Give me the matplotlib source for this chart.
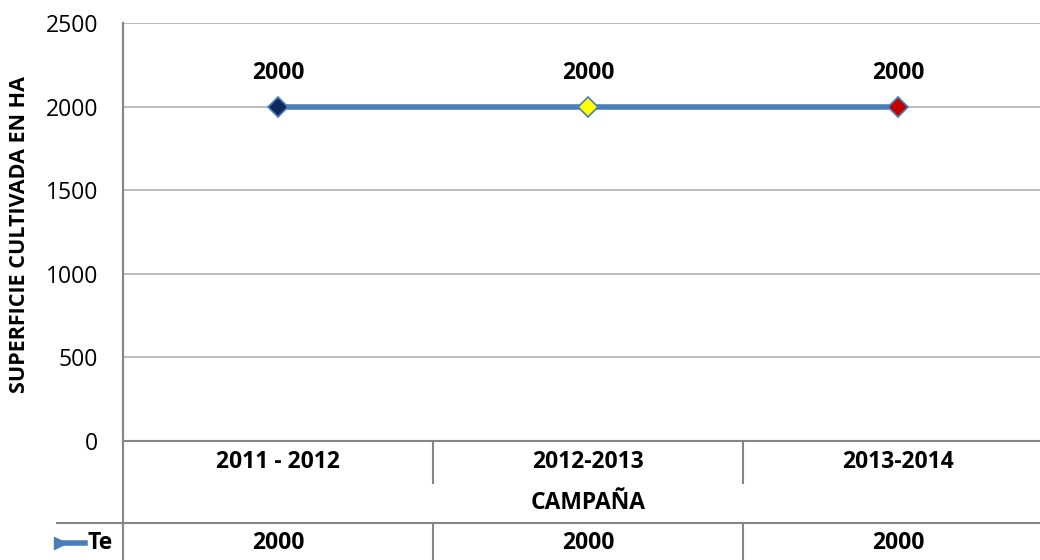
import numpy as np
import matplotlib.pyplot as plt
from matplotlib.lines import Line2D

plt.rcParams['font.family'] = ['Open Sans', 'DejaVu Sans']

# data
campaigns = ['2011 - 2012', '2012-2013', '2013-2014']
surface = [2000, 2000, 2000]
marker_colors = ['#0f2a5c', '#ffff00', '#c00000']
series_name = 'Te'
y_ticks = [0, 500, 1000, 1500, 2000, 2500]

W, H = 1040, 560
fig = plt.figure(figsize=(W / 100, H / 100), dpi=100)
# plot area in pixels: left 123, top 23, bottom 441, each category 310 wide
ax = fig.add_axes([123 / W, (H - 441) / H, 930 / W, (441 - 23) / H])

x = np.arange(len(campaigns))
ax.set_xlim(-0.5, len(campaigns) - 0.5)
ax.set_ylim(0, 2500)

fs = 16.5
blue = '#4a7ebb'
ax.plot(x, surface, color=blue, lw=4, zorder=3, solid_capstyle='butt')
for xi, yi, c in zip(x, surface, marker_colors):
    ax.plot(xi, yi, marker='D', ms=10, mfc=c, mec=blue, mew=1.2, zorder=4)
    ax.annotate(str(yi), (xi, yi), xytext=(0, 24), textcoords='offset points',
                ha='center', va='center', fontsize=fs, fontweight='bold')

ax.set_yticks(y_ticks)
ax.tick_params(axis='y', length=0, pad=18, labelsize=fs)
ax.set_xticks([])
ax.grid(axis='y', color='#b0b0b0', lw=1.2)
for s in ['top', 'right', 'bottom']:
    ax.spines[s].set_visible(False)
ax.spines['left'].set_color('#868686')
ax.spines['left'].set_linewidth(1.5)

ax.set_ylabel('SUPERFICIE CULTIVADA EN HA', fontsize=15.5, fontweight='bold')
ax.yaxis.set_label_coords(-0.100, 0.495)

# data table below the axis
tr = ax.get_xaxis_transform()
fy = lambda py: (441 - py) / (441 - 23)  # pixel row -> axes fraction
line_kw = dict(color='#868686', lw=1.5, clip_on=False)

ax.plot([-0.5, 2.5], [0, 0], transform=tr, **line_kw)
ax.plot([-0.5, -0.5], [1, fy(562)], transform=tr, **line_kw)
ax.add_line(Line2D([-0.071, 1], [fy(523), fy(523)], transform=ax.transAxes, **line_kw))
for d in x[:-1] + 0.5:
    ax.plot([d, d], [0, fy(483)], transform=tr, **line_kw)
    ax.plot([d, d], [fy(523), fy(562)], transform=tr, **line_kw)

for xi, lab, val in zip(x, campaigns, surface):
    ax.text(xi, fy(462), lab, transform=tr, ha='center', va='center',
            fontsize=fs, fontweight='bold', clip_on=False)
    ax.text(xi, fy(543), str(val), transform=tr, ha='center', va='center',
            fontsize=fs, fontweight='bold', clip_on=False)
ax.text(x[1], fy(503), 'CAMPAÑA', transform=tr, ha='center', va='center',
        fontsize=fs, fontweight='bold', clip_on=False)

# truncated legend key in the table
ax.add_line(Line2D([-0.068, -0.041], [fy(543), fy(543)], transform=ax.transAxes,
                   color=blue, lw=4, clip_on=False))
ax.add_line(Line2D([-0.068], [fy(543)], transform=ax.transAxes, marker='>',
                   ms=8, color=blue, clip_on=False))
ax.text(-0.038, fy(543), series_name, transform=ax.transAxes, ha='left',
        va='center', fontsize=fs, fontweight='bold', clip_on=False)

fig.savefig('out.png', dpi=100)
